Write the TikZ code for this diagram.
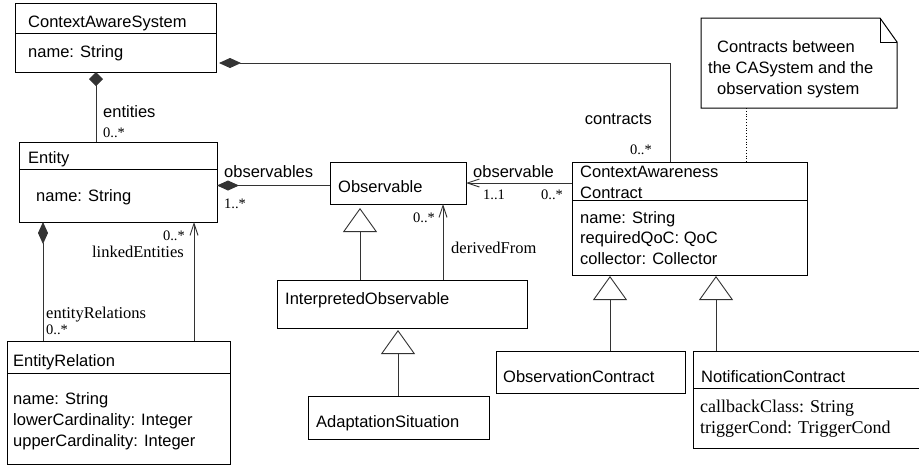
\documentclass[tikz,border=0pt]{standalone}
\usepackage{fontspec}
\setmainfont{Liberation Serif}
\setsansfont{Liberation Sans}
\usetikzlibrary{arrows.meta}
\begin{document}
\begin{tikzpicture}[x=1pt,y=-1pt,
  box/.style={draw, line width=1pt, inner sep=0pt, outer sep=0pt, anchor=north west},
  st/.style={anchor=base west, inner sep=0pt, font=\sffamily\fontsize{16.5}{20}\selectfont},
  rt/.style={anchor=base west, inner sep=0pt, font=\rmfamily\fontsize{16.5}{20}\selectfont},
  rtb/.style={anchor=base west, inner sep=0pt, font=\rmfamily\fontsize{18}{21}\selectfont},
  mt/.style={anchor=base west, inner sep=0pt, font=\rmfamily\fontsize{14.5}{17}\selectfont},
  conn/.style={line width=0.9pt, draw=black!80},
  compA/.style={conn, {Diamond[length=22pt,width=10pt]}-},
  compB/.style={conn, {Diamond[length=14pt,width=14pt]}-},
  nav/.style={conn, -{Straight Barb[length=12pt,width=8pt]}},
  gen/.style={conn, -{Triangle[open,length=24pt,width=34pt,fill=white]}},
  divl/.style={line width=1pt}
]
\useasboundingbox (0,0) rectangle (919,466);

% ContextAwareSystem
\node[box, minimum width=201pt, minimum height=69pt] (cas) at (15,3) {};
\draw[divl] (15,33) -- (216,33);
\node[st] (casT) at (28,27) {ContextAwareSystem};
\node[st] (casA) at (28,57) {name: String};

% Entity
\node[box, minimum width=198pt, minimum height=80pt] (ent) at (19,142) {};
\draw[divl] (19,169) -- (217,169);
\node[st] (entT) at (28,163) {Entity};
\node[st] (entA) at (36,201) {name: String};

% EntityRelation
\node[box, minimum width=223pt, minimum height=123pt] (er) at (7,341) {};
\draw[divl] (7,373) -- (230,373);
\node[st] (erT) at (13,366) {EntityRelation};
\node[st] (erA1) at (13,404) {name: String};
\node[st] (erA2) at (13,425) {lowerCardinality: Integer};
\node[st] (erA3) at (13,446) {upperCardinality: Integer};

% Observable
\node[box, minimum width=136pt, minimum height=42pt] (obs) at (330,162) {};
\node[st] (obsT) at (338,192) {Observable};

% InterpretedObservable
\node[box, minimum width=250pt, minimum height=48pt] (io) at (277,280) {};
\node[st] (ioT) at (285,304) {InterpretedObservable};

% AdaptationSituation
\node[box, minimum width=181pt, minimum height=43pt] (as) at (308,396) {};
\node[st] (asT) at (316,427) {AdaptationSituation};

% ContextAwarenessContract
\node[box, minimum width=235pt, minimum height=113pt] (cac) at (572,162) {};
\draw[divl] (572,200) -- (807,200);
\node[st] (cacT1) at (580,177) {ContextAwareness};
\node[st] (cacT2) at (580,198) {Contract};
\node[st] (cacA1) at (580,223) {name: String};
\node[st] (cacA2) at (580,243) {requiredQoC: QoC};
\node[st] (cacA3) at (580,264) {collector: Collector};

% ObservationContract
\node[box, minimum width=189pt, minimum height=42pt] (oc) at (496,351) {};
\node[st] (ocT) at (503,382) {ObservationContract};

% NotificationContract (runs off the right edge)
\node[box, minimum width=240pt, minimum height=97pt] (nc) at (693,351) {};
\draw[divl] (693,388) -- (933,388);
\node[st] (ncT) at (701,382) {NotificationContract};
\node[rtb] (ncA1) at (700,412) {callbackClass: String};
\node[rtb] (ncA2) at (700,433) {triggerCond: TriggerCond};

% Note
\node[inner sep=0pt, outer sep=0pt, minimum width=196pt, minimum height=90pt, anchor=north west] (note) at (701,18) {};
\draw[line width=1pt] (701,18) -- (880,18) -- (897,42) -- (897,108) -- (701,108) -- cycle;
\draw[line width=0.8pt] (880,18) -- (880,42) -- (897,42);
\node[st] (n1) at (717,52) {Contracts between};
\node[st] (n2) at (708,73) {the CASystem and the};
\node[st] (n3) at (717,94) {observation system};

% Connectors
\draw[compB] ([xshift=81pt]cas.south west) -- ([xshift=77pt]ent.north west);
\node[st] (lEnt) at (103,117) {entities};
\node[mt] (mEnt) at (103,137) {0..*};

\draw[compA, shorten <=3pt] ([yshift=9pt]cas.south east) -| ([xshift=98pt]cac.north west);
\node[st, anchor=base east] (lCon) at (652,124) {contracts};
\node[mt, anchor=base east] (mCon) at (652,154) {0..*};

\draw[compA] ([yshift=-3.5pt]ent.east) -- ([yshift=-2.5pt]obs.west);
\node[st] (lObs) at (224,177) {observables};
\node[mt] (mObs) at (224,208) {1..*};

\draw[compA] ([xshift=24pt]ent.south west) -- ([xshift=36pt]er.north west);
\node[rt] (lER) at (46,318) {entityRelations};
\node[mt] (mER) at (46,334) {0..*};

\draw[nav] ([xshift=187pt]er.north west) -- ([xshift=175pt]ent.south west);
\node[mt, anchor=base east] (mLE) at (185,240) {0..*};
\node[rt, anchor=base east] (lLE) at (184,257) {linkedEntities};

\draw[nav] ([yshift=-21pt]cac.north west) -- (obs.east);
\node[st] (lOb) at (473,177) {observable};
\node[mt] (m11) at (483,199) {1..1};
\node[mt] (m0c) at (541,199) {0..*};

\draw[nav] ([xshift=166pt]io.north west) -- ([xshift=113pt]obs.south west);
\node[mt] (mDF) at (413,222) {0..*};
\node[rt] (lDF) at (451,253) {derivedFrom};

\draw[gen, shorten >=4pt] ([xshift=83pt]io.north west) -- ([xshift=30pt]obs.south west);
\draw[gen, shorten >=2pt] ([xshift=90pt]as.north west) -- ([xshift=121pt]io.south west);
\draw[gen, shorten >=1pt] ([xshift=114pt]oc.north west) -- ([xshift=38pt]cac.south west);
\draw[gen, shorten >=1pt] ([xshift=23pt]nc.north west) -- ([xshift=144pt]cac.south west);

\draw[line width=0.8pt, dotted] ([xshift=45pt]note.south west) -- ([xshift=174pt]cac.north west);
\end{tikzpicture}
\end{document}
